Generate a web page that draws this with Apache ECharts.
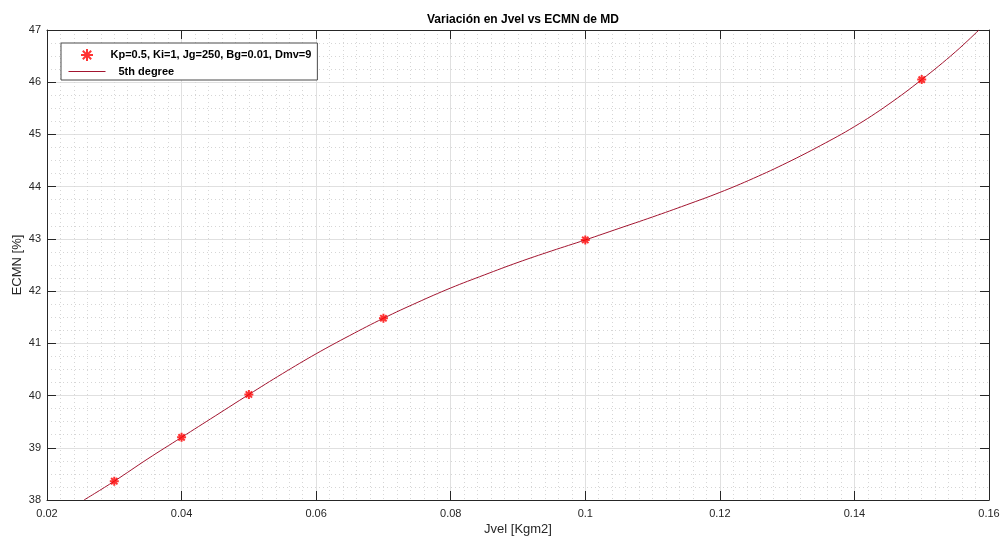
<!DOCTYPE html>
<html>
<head>
<meta charset="utf-8">
<script src="https://cdn.jsdelivr.net/npm/echarts@6/dist/echarts.min.js"></script>
<style>
  html, body { margin: 0; padding: 0; background: #fff; }
  #chart { width: 1003px; height: 538px; }
</style>
</head>
<body>
<div id="chart"></div>
<script>
// Measured points: Jvel [Kgm2] vs ECMN [%]
const jvel = [0.03, 0.04, 0.05, 0.07, 0.10, 0.15];
const ecmn = [38.36, 39.20, 40.02, 41.48, 42.98, 46.05];

// 5th degree fit curve, sampled along its path
const fitX = [0.0255, 0.03, 0.035, 0.04, 0.045, 0.05, 0.055, 0.06, 0.065, 0.07,
              0.075, 0.08, 0.085, 0.09, 0.095, 0.10, 0.105, 0.11, 0.115, 0.12,
              0.125, 0.13, 0.135, 0.14, 0.145, 0.15, 0.155, 0.1585];
const fitY = [38.00, 38.36, 38.79, 39.20, 39.61, 40.02, 40.42, 40.80, 41.15, 41.48,
              41.78, 42.06, 42.31, 42.55, 42.77, 42.98, 43.20, 43.42, 43.65, 43.89,
              44.16, 44.46, 44.79, 45.15, 45.57, 46.05, 46.58, 47.00];

// Axis ranges
const xRange = { min: 0.02, max: 0.16, step: 0.02 };
const yRange = { min: 38, max: 47, step: 1 };

const titleText = 'Variación en Jvel vs ECMN de MD';
const xName = 'Jvel [Kgm2]';
const yName = 'ECMN [%]';
const pointsName = 'Kp=0.5, Ki=1, Jg=250, Bg=0.01, Dmv=9';
const fitName = '5th degree';

const FONT = '"Liberation Sans", Arial, Helvetica, sans-serif';
const AXIS_COLOR = '#262626';
const FIT_COLOR = '#A2142F';

// Asterisk marker (+ and x strokes)
const asterisk = 'path://M5,0L5,10M0,5L10,5M1.5,1.5L8.5,8.5M8.5,1.5L1.5,8.5';

const chart = echarts.init(document.getElementById('chart'), null, { renderer: 'canvas' });

const minorGrid = { show: true, lineStyle: { color: '#d6d6d6', width: 1, type: [1, 3] } };
const majorGrid = { show: true, lineStyle: { color: '#e0e0e0', width: 1, type: 'solid' } };

function frameAxis(pos, range, extra) {
  return Object.assign({
    type: 'value',
    position: pos,
    min: range.min, max: range.max, interval: range.step,
    axisLine: { show: true, onZero: false, lineStyle: { color: AXIS_COLOR, width: 1 } },
    axisTick: { show: true, inside: true, length: 9, lineStyle: { color: AXIS_COLOR, width: 1 } },
    axisLabel: { show: false },
    splitLine: { show: false }
  }, extra || {});
}

chart.setOption({
  animation: false,
  backgroundColor: '#fff',
  title: {
    text: titleText,
    left: 518, top: 9, textAlign: 'center',
    textStyle: { fontFamily: FONT, fontSize: 12, fontWeight: 'bold', color: '#000' }
  },
  grid: { left: 47, right: 14, top: 30, bottom: 38, containLabel: false, outerBoundsMode: 'none' },
  legend: {
    orient: 'vertical',
    left: 61, top: 43,
    padding: [5, 6, 3, 7],
    itemGap: 4,
    itemWidth: 37, itemHeight: 12,
    backgroundColor: '#fff',
    borderColor: '#4a4a4a', borderWidth: 1,
    data: [
      { name: pointsName },
      {
        name: fitName,
        lineStyle: { width: 1, color: FIT_COLOR },
        itemStyle: { color: 'rgba(0,0,0,0)', borderColor: 'rgba(0,0,0,0)', borderWidth: 0 }
      }
    ],
    formatter: function (name) {
      return name === fitName ? '{p|' + name + '}' : name;
    },
    textStyle: {
      fontFamily: FONT, fontSize: 11, fontWeight: 'bold', color: '#000',
      rich: { p: { fontFamily: FONT, fontSize: 11, fontWeight: 'bold', color: '#000', padding: [0, 0, 0, 8] } }
    }
  },
  xAxis: [
    frameAxis('bottom', xRange, {
      name: xName, nameLocation: 'middle', nameGap: 23, nameMoveOverlap: false,
      nameTextStyle: { fontFamily: FONT, fontSize: 13, color: AXIS_COLOR },
      axisLabel: { show: true, margin: 8, fontFamily: FONT, fontSize: 11, color: AXIS_COLOR },
      splitLine: majorGrid,
      minorTick: { show: false, splitNumber: 10 },
      minorSplitLine: minorGrid
    }),
    frameAxis('top', xRange)
  ],
  yAxis: [
    frameAxis('left', yRange, {
      name: yName, nameLocation: 'middle', nameGap: 23, nameRotate: 90, nameMoveOverlap: false,
      nameTextStyle: { fontFamily: FONT, fontSize: 13, color: AXIS_COLOR },
      axisLabel: { show: true, margin: 6, fontFamily: FONT, fontSize: 11, color: AXIS_COLOR },
      splitLine: majorGrid,
      minorTick: { show: false, splitNumber: 4 },
      minorSplitLine: minorGrid
    }),
    frameAxis('right', yRange)
  ],
  series: [
    {
      name: pointsName,
      type: 'scatter',
      xAxisIndex: 0, yAxisIndex: 0,
      symbol: asterisk,
      symbolSize: 9,
      itemStyle: { color: 'rgba(0,0,0,0)', borderColor: '#ff0000', borderWidth: 2 },
      data: jvel.map((x, i) => [x, ecmn[i]]),
      z: 4
    },
    {
      name: fitName,
      type: 'line',
      xAxisIndex: 0, yAxisIndex: 0,
      symbol: 'none',
      smooth: 0.4,
      lineStyle: { color: FIT_COLOR, width: 1 },
      itemStyle: { color: FIT_COLOR },
      data: fitX.map((x, i) => [x, fitY[i]]),
      z: 3
    }
  ]
});
</script>
</body>
</html>
